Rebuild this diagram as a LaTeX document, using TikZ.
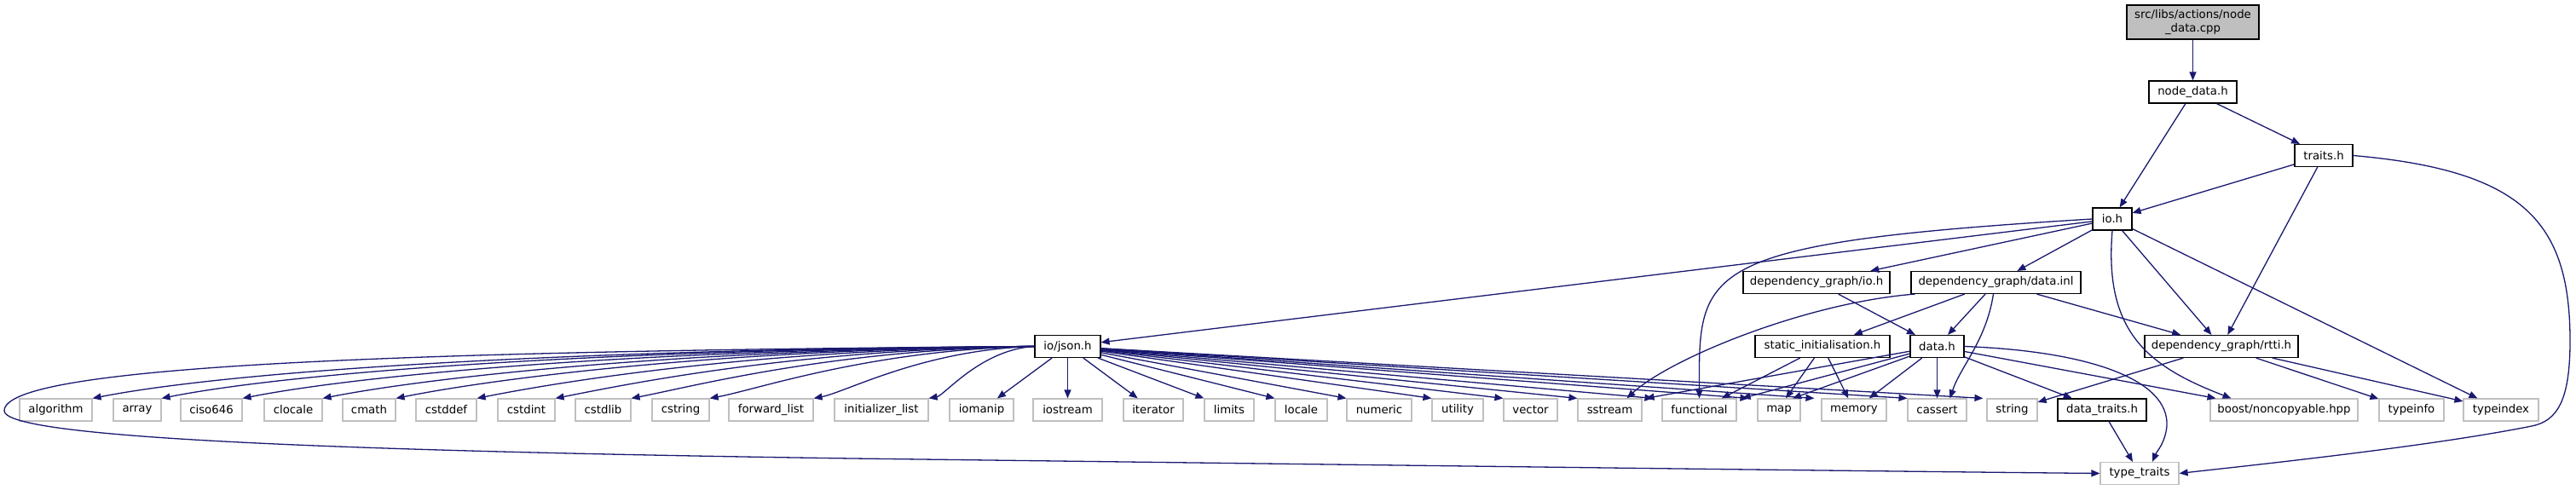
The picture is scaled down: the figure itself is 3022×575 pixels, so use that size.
\documentclass[tikz,border=0pt]{standalone}
\usepackage{fontspec}
\setmainfont{DejaVu Sans}
\usetikzlibrary{arrows.meta}
\definecolor{edgec}{HTML}{191970}
\definecolor{greyb}{HTML}{BFBFBF}
\begin{document}
\begin{tikzpicture}[x=1pt,y=-1pt,
  box/.style={draw=black, line width=1.15pt, fill=white, minimum height=26pt, inner sep=0pt, font=\fontsize{13.3}{15.5}\selectfont},
  ext/.style={box, draw=greyb},
  edge/.style={draw=edgec, line width=1.3pt, -{Triangle[length=10pt,width=8pt]}},
]
\useasboundingbox (0,0) rectangle (3022,575);
% nodes
\node[box, fill=greyb, minimum width=155pt, minimum height=40pt, align=center] (cpp) at (2572.5,26) {src/libs/actions/node\\\_data.cpp};
\node[box, minimum width=103pt] (ndh) at (2572.5,108) {node\_data.h};
\node[box, minimum width=68pt] (traits) at (2726,182.5) {traits.h};
\node[box, minimum width=46pt] (io) at (2478,257) {io.h};
\node[box, minimum width=172pt] (dgio) at (2131,331.5) {dependency\_graph/io.h};
\node[box, minimum width=199pt] (dginl) at (2341.5,331.5) {dependency\_graph/data.inl};
\node[box, minimum width=77pt] (json) at (1252.5,406.5) {io/json.h};
\node[box, minimum width=158pt] (static) at (2138,406.5) {static\_initialisation.h};
\node[box, minimum width=63pt] (datah) at (2272.5,406.5) {data.h};
\node[box, minimum width=180pt] (rtti) at (2606,406.5) {dependency\_graph/rtti.h};
% bottom row
\node[ext, minimum width=85pt] (algorithm) at (65.5,481) {algorithm};
\node[ext, minimum width=56pt] (array) at (161,481) {array};
\node[ext, minimum width=72pt] (ciso) at (248,481) {ciso646};
\node[ext, minimum width=68pt] (clocale) at (344,481) {clocale};
\node[ext, minimum width=62pt] (cmath) at (433,481) {cmath};
\node[ext, minimum width=71pt] (cstddef) at (523.5,481) {cstddef};
\node[ext, minimum width=67pt] (cstdint) at (617.5,481) {cstdint};
\node[ext, minimum width=65pt] (cstdlib) at (707.5,481) {cstdlib};
\node[ext, minimum width=67pt] (cstring) at (798.5,481) {cstring};
\node[ext, minimum width=99pt] (fwdlist) at (904.5,481) {forward\_list};
\node[ext, minimum width=110pt] (initlist) at (1034,481) {initializer\_list};
\node[ext, minimum width=75pt] (iomanip) at (1151.5,481) {iomanip};
\node[ext, minimum width=81pt] (iostream) at (1252.5,481) {iostream};
\node[ext, minimum width=70pt] (iterator) at (1353,481) {iterator};
\node[ext, minimum width=58pt] (limits) at (1442,481) {limits};
\node[ext, minimum width=61pt] (locale) at (1526.5,481) {locale};
\node[ext, minimum width=76pt] (numeric) at (1618,481) {numeric};
\node[ext, minimum width=60pt] (utility) at (1710,481) {utility};
\node[ext, minimum width=63pt] (vector) at (1795.5,481) {vector};
\node[ext, minimum width=75pt] (sstream) at (1888.5,481) {sstream};
\node[ext, minimum width=87pt] (functional) at (1993.5,481) {functional};
\node[ext, minimum width=50pt] (map) at (2087,481) {map};
\node[ext, minimum width=76pt] (memory) at (2175,481) {memory};
\node[ext, minimum width=69pt] (cassert) at (2272.5,481) {cassert};
\node[ext, minimum width=59pt] (string) at (2360.5,481) {string};
\node[box, minimum width=104pt] (dtraits) at (2466,481) {data\_traits.h};
\node[ext, minimum width=173pt] (boost) at (2679.5,481) {boost/noncopyable.hpp};
\node[ext, minimum width=76pt] (typeinfo) at (2829,481) {typeinfo};
\node[ext, minimum width=88pt] (typeindex) at (2934,481) {typeindex};
\node[ext, minimum width=92pt] (tt) at (2510,555.5) {type\_traits};
% edges top
\draw[edge] (cpp) -- (ndh);
\draw[edge] (ndh) -- (io);
\draw[edge] (ndh) -- (traits);
\draw[edge] (traits) -- (io);
\draw[edge] (traits) -- (rtti);
\draw[edge] (traits.east) .. controls (2960,200) and (3015,260) .. (3015,400)
  .. controls (3015,470) and (3000,494) .. (2970,500)
  .. controls (2850,524) and (2650,545) .. (tt.east);
% io.h
\draw[edge] (io) -- (json);
\draw[edge] (io.west) .. controls (1990,285) and (1993,315) .. (functional.north);
\draw[edge] (io) -- (dgio);
\draw[edge] (io) -- (dginl);
\draw[edge] (io) -- (rtti);
\draw[edge] (io) -- (typeindex);
\draw[edge] (io.south) .. controls (2468,390) and (2520,430) .. ([xshift=-62pt]boost.north);
% json left fan
\draw[edge] (json.west) .. controls (661,410) and (274,435) .. (algorithm.north east);
\draw[edge] (json.west) .. controls (702,410) and (343,437) .. (array.north east);
\draw[edge] (json.west) .. controls (749,410) and (424,440) .. (ciso.north east);
\draw[edge] (json.west) .. controls (796,410) and (503,443) .. (clocale.north east);
\draw[edge] (json.west) .. controls (839,410) and (576,445) .. (cmath.north east);
\draw[edge] (json.west) .. controls (886,410) and (657,448) .. (cstddef.north east);
\draw[edge] (json.west) .. controls (932,410) and (735,451) .. (cstdint.north east);
\draw[edge] (json.west) .. controls (977,410) and (811,454) .. (cstdlib.north east);
\draw[edge] (json.west) .. controls (1023,410) and (889,457) .. (cstring.north east);
\draw[edge] (json.west) .. controls (1084,410) and (993,460) .. (fwdlist.north east);
\draw[edge] (json.west) .. controls (1151,410) and (1108,464) .. (initlist.north east);
\draw[edge] (json) -- (iomanip);
\draw[edge] (json) -- (iostream);
\draw[edge] (json) -- (iterator);
\draw[edge] (json) -- (limits.north west);
\draw[edge] (json) -- (locale.north west);
\draw[edge] (json) -- (numeric.north west);
\draw[edge] (json) -- (utility.north west);
\draw[edge] (json) -- (vector.north west);
\draw[edge] (json) -- (sstream.north west);
\draw[edge] (json) -- ([xshift=-10pt]functional.north west);
\draw[edge] (json) -- ([xshift=-10pt]map.north west);
\draw[edge] (json) -- ([xshift=-8pt]memory.north west);
\draw[edge] (json) -- (cassert.north west);
\draw[edge] (json) -- ([xshift=-4pt]string.north west);
\draw[edge] (json.west) .. controls (450,412) and (5,430) .. (5,482)
  .. controls (5,510) and (300,528) .. (1000,538)
  .. controls (1800,548) and (2200,553) .. (tt.west);
% dependency_graph/io.h
\draw[edge] (dgio) -- (datah);
% data.inl
\draw[edge] (dginl) -- (static);
\draw[edge] (dginl) -- (datah);
\draw[edge] (dginl) -- (rtti);
\draw[edge] ([xshift=-95pt]dginl.south) .. controls (2120,355) and (1960,420) .. ([xshift=20pt]sstream.north);
\draw[edge] ([xshift=-3pt]dginl.south) .. controls (2330,400) and (2300,430) .. ([xshift=15pt]cassert.north);
% static_initialisation.h
\draw[edge] (static) -- (functional);
\draw[edge] (static) -- ([xshift=8pt]map.north);
\draw[edge] (static) -- (memory);
% data.h
\draw[edge] (datah) -- ([xshift=4pt]sstream.north east);
\draw[edge] (datah) -- ([xshift=6pt]functional.north east);
\draw[edge] (datah) -- ([xshift=16pt]map.north);
\draw[edge] (datah) -- (memory);
\draw[edge] (datah) -- (cassert);
\draw[edge] (datah) -- (dtraits);
\draw[edge] (datah) -- ([xshift=-80pt]boost.north);
\draw[edge] (datah.east) .. controls (2450,412) and (2545,445) .. (2542,500)
  .. controls (2540,520) and (2530,530) .. ([xshift=15pt]tt.north);
% rtti
\draw[edge] (rtti) -- (string);
\draw[edge] (rtti) -- (typeinfo);
\draw[edge] (rtti) -- (typeindex);
% data_traits
\draw[edge] (dtraits) -- (tt);
\end{tikzpicture}
\end{document}
